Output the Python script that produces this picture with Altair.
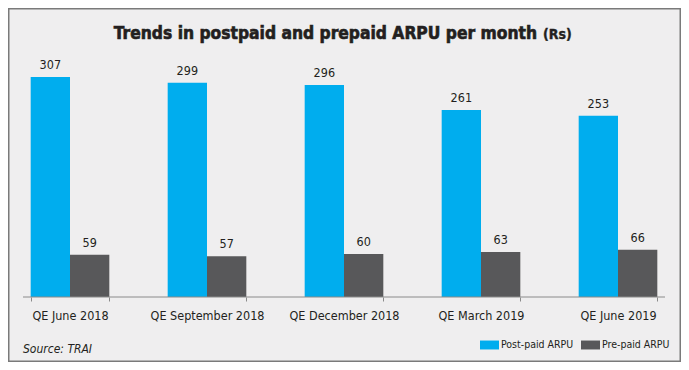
import altair as alt
import pandas as pd

quarters = ["QE June 2018", "QE September 2018", "QE December 2018", "QE March 2019", "QE June 2019"]
postpaid = [307, 299, 296, 261, 253]
prepaid = [59, 57, 60, 63, 66]
series = ["Post-paid ARPU", "Pre-paid ARPU"]
colors = ["#00adee", "#58585a"]
title_main = "Trends in postpaid and prepaid ARPU per month"
title_unit = "(Rs)"
source_text = "Source: TRAI"

rows = []
for q, a, b in zip(quarters, postpaid, prepaid):
    rows.append({"quarter": q, "series": series[0], "value": a})
    rows.append({"quarter": q, "series": series[1], "value": b})
df = pd.DataFrame(rows)

FONT = "DejaVu Sans Condensed, Liberation Sans Narrow, sans-serif"
W, H = 673, 289

xscale = alt.Scale(domain=quarters, range=[-6.5, 678.5], paddingInner=0.426, paddingOuter=0.213)
yscale = alt.Scale(domain=[0, 403.5], nice=False, zero=True)
oscale = alt.Scale(domain=series, paddingInner=0, paddingOuter=0)

base = alt.Chart(df)

bars = base.mark_bar().encode(
    x=alt.X("quarter:N", scale=xscale, sort=quarters,
            axis=alt.Axis(title=None, labelAngle=0, domain=False, tickBand="extent",
                          tickSize=4, tickColor="#8a8a8a", labelFont=FONT, labelFontSize=12.5,
                          labelColor="#231f20", labelPadding=8, grid=False)),
    xOffset=alt.XOffset("series:N", scale=oscale, sort=series),
    y=alt.Y("value:Q", scale=yscale, axis=None),
    color=alt.Color("series:N", scale=alt.Scale(domain=series, range=colors),
                    legend=alt.Legend(orient="none", legendX=472, legendY=327.5, direction="horizontal",
                                      title=None, symbolType="M-1,-0.47H1V0.47H-1Z", symbolSize=361,
                                      symbolStrokeWidth=0, symbolOpacity=1, labelFont=FONT,
                                      labelFontSize=10.5, labelColor="#231f20", labelOffset=2,
                                      columnPadding=7, padding=0)),
)

labels = base.mark_text(baseline="bottom", dy=-5, font=FONT, fontSize=12.5, color="#231f20").encode(
    x=alt.X("quarter:N", scale=xscale, sort=quarters),
    xOffset=alt.XOffset("series:N", scale=oscale, sort=series),
    y=alt.Y("value:Q", scale=yscale),
    text=alt.Text("value:Q"),
)

baseline = alt.Chart(pd.DataFrame({"v": [0]})).mark_rule(color="#8a8a8a", strokeWidth=1).encode(
    x=alt.value(15), x2=alt.value(657), y=alt.Y("v:Q", scale=yscale)
)

t1 = alt.Chart(pd.DataFrame({"t": [title_main]})).mark_text(
    font=FONT, fontSize=17.3, fontWeight="bold", align="right", baseline="alphabetic", color="#231f20",
    stroke="#231f20", strokeWidth=0.6
).encode(x=alt.value(529), y=alt.value(31), text="t:N")

t2 = alt.Chart(pd.DataFrame({"t": [title_unit]})).mark_text(
    font=FONT, fontSize=14, fontWeight="bold", align="left", baseline="alphabetic", color="#231f20",
    stroke="#231f20", strokeWidth=0.4
).encode(x=alt.value(535), y=alt.value(31), text="t:N")

src = alt.Chart(pd.DataFrame({"t": [source_text]})).mark_text(
    font=FONT, fontSize=12, fontStyle="italic", align="left", baseline="middle", color="#231f20"
).encode(x=alt.value(15), y=alt.value(341), text="t:N")

border = alt.Chart(pd.DataFrame({"v": [0]})).mark_rect(fill=None, stroke="#7a7a7a", strokeWidth=1.5).encode(
    x=alt.value(0.75), x2=alt.value(672.25), y=alt.value(0.75), y2=alt.value(353.25)
)

chart = alt.layer(bars, labels, baseline, t1, t2, src, border).properties(
    width=W, height=H, background="#efeeef",
    autosize=alt.AutoSizeParams(type="none"),
    padding={"left": 0, "top": 0, "right": 0, "bottom": 65},
).configure_view(stroke=None)

chart.save("out.html", embed_options={"renderer": "svg", "actions": False})
